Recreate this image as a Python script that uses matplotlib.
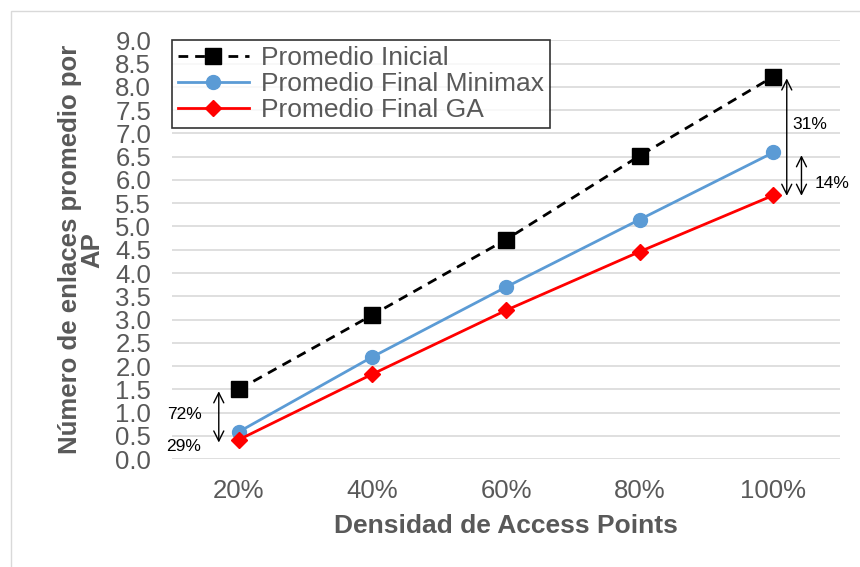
import matplotlib.pyplot as plt
from matplotlib.patches import Rectangle

plt.rcParams['font.family'] = ['Liberation Sans', 'DejaVu Sans']

densidades = ['20%', '40%', '60%', '80%', '100%']
promedioInicial = [1.50, 3.10, 4.72, 6.52, 8.22]
promedioMinimax = [0.59, 2.20, 3.70, 5.15, 6.59]
promedioGA = [0.42, 1.83, 3.20, 4.46, 5.67]

grey = '#595959'
fig = plt.figure(figsize=(8.6, 5.67), dpi=100)
ax = fig.add_axes([0.2, 0.19, 0.777, 0.739])

x = range(len(densidades))
ax.plot(x, promedioInicial, color='black', linestyle=(0, (3.5, 2.5)), linewidth=2,
        marker='s', markersize=11, label='Promedio Inicial')
ax.plot(x, promedioMinimax, color='#5B9BD5', linewidth=2,
        marker='o', markersize=10, label='Promedio Final Minimax')
ax.plot(x, promedioGA, color='#FF0000', linewidth=2,
        marker='D', markersize=8, label='Promedio Final GA')

# flechas de reduccion
arrow = dict(arrowstyle='<->', color='black', lw=1, mutation_scale=18)
ax.annotate('', xy=(-0.15, 0.30), xytext=(-0.15, 1.52), arrowprops=arrow)
ax.annotate('', xy=(4.10, 5.60), xytext=(4.10, 8.24), arrowprops=arrow)
ax.annotate('', xy=(4.21, 5.60), xytext=(4.21, 6.59), arrowprops=arrow)
ax.text(-0.41, 0.97, '72%', fontsize=12.5, ha='center', va='center')
ax.text(-0.41, 0.27, '29%', fontsize=12.5, ha='center', va='center')
ax.text(4.27, 7.18, '31%', fontsize=12.5, ha='center', va='center')
ax.text(4.44, 5.93, '14%', fontsize=12.5, ha='center', va='center')

ax.set_xlim(-0.5, len(densidades) - 0.5)
ax.set_ylim(0, 9)
ax.set_yticks([i * 0.5 for i in range(19)])
ax.set_yticklabels([f'{i * 0.5:.1f}' for i in range(19)])
ax.set_xticks(list(x))
ax.set_xticklabels(densidades)
ax.tick_params(axis='both', length=0, labelsize=18.5, labelcolor=grey)
ax.tick_params(axis='x', pad=14)
ax.tick_params(axis='y', pad=15)
ax.grid(axis='y', color='#D9D9D9', linewidth=1.2)
ax.set_axisbelow(True)
for s in ax.spines.values():
    s.set_visible(False)

ax.set_xlabel('Densidad de Access Points', fontsize=19, fontweight='bold', color=grey, labelpad=8)
ax.set_ylabel('Número de enlaces promedio por\nAP', fontsize=18.5, fontweight='bold', color=grey,
              labelpad=8, linespacing=0.9)

leg = ax.legend(loc='upper left', bbox_to_anchor=(0.0, 1.0), fontsize=19, frameon=True,
                fancybox=False, edgecolor='black', borderpad=0.22, labelspacing=0.08,
                handlelength=2.7, handletextpad=0.45, borderaxespad=0.0)
leg.get_frame().set_linewidth(1.2)
for t in leg.get_texts():
    t.set_color(grey)

fig.patches.append(Rectangle((11 / 860, -0.1), 1.2, 1.1 - 11 / 567, transform=fig.transFigure,
                             fill=False, edgecolor='#D9D9D9', linewidth=1))

fig.savefig('out.png', dpi=100)
